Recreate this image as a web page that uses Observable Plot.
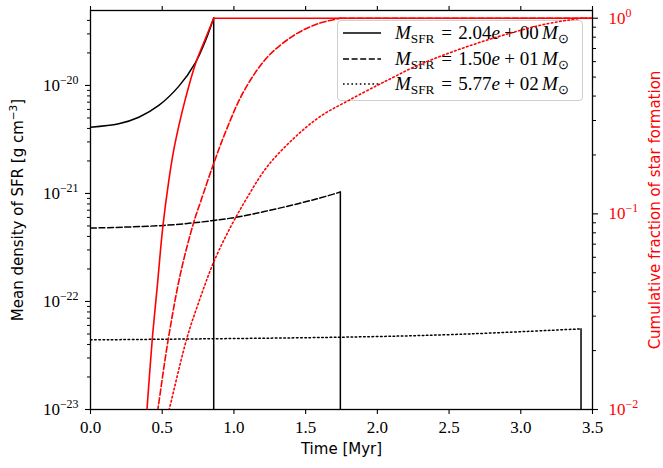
<!DOCTYPE html>
<html>
<head>
<meta charset="utf-8">
<script src="https://cdn.jsdelivr.net/npm/d3@7"></script>
<script src="https://cdn.jsdelivr.net/npm/@observablehq/plot@0.6"></script>
<style>
  body { margin: 0; background: #fff; }
  #wrap { position: relative; width: 663px; height: 468px; overflow: hidden; }
  #wrap svg.layer { position: absolute; left: 0; top: 0; }
  #legend { position: absolute; left: 337px; top: 20px; width: 246px; height: 81px; box-sizing: border-box;
    border: 1px solid #cfcfcf; border-radius: 4px; background: rgba(255,255,255,0.8);
    font-family: "Liberation Serif", serif; font-size: 19px; color: #000; }
  #legend .row { position: absolute; left: 0; height: 24px; width: 100%; }
  #legend .row svg { position: absolute; left: 5px; top: 7px; }
  #legend .row .txt { position: absolute; left: 57px; top: 0; line-height: 24px; white-space: nowrap; }
  #legend sub { font-size: 0.7em; vertical-align: -0.28em; line-height: 0; font-style: normal; }
  #legend .eq { margin: 0 0.32em 0 0.36em; }
  #legend .pl { margin: 0 0.24em; }
  #legend .sp { margin-left: 0.18em; }
</style>
</head>
<body>
<div id="wrap"></div>
<script>
// ---------- data ----------
const xTicks = [0, 0.5, 1.0, 1.5, 2.0, 2.5, 3.0, 3.5];
const leftMajor = [1e-23, 1e-22, 1e-21, 1e-20];
const rightMajor = [1e-2, 1e-1, 1e0];
const minorMultipliers = [2, 3, 4, 5, 6, 7, 8, 9];

// SFR mean density (black), g cm^-3
const tSolid   = [0, 0.197, 0.337, 0.476, 0.615, 0.732, 0.801, 0.859];
const rhoSolid = [4.11e-21, 4.42e-21, 5.08e-21, 6.53e-21, 9.8e-21, 1.63e-20, 2.58e-20, 4.21e-20];
const tDashed   = [0, 0.511, 0.859, 1.045, 1.347, 1.580, 1.742];
const rhoDashed = [4.78e-22, 5.06e-22, 5.62e-22, 6.12e-22, 7.47e-22, 8.93e-22, 1.03e-21];
const tDotted   = [0, 1.742, 2.52, 3.42];
const rhoDotted = [4.41e-23, 4.67e-23, 4.94e-23, 5.58e-23];

// cumulative fraction of star formation (red)
const tFracSolid = [0.37, 0.395, 0.430, 0.465, 0.504, 0.546, 0.580, 0.615, 0.662, 0.732, 0.801, 0.859, 3.5];
const fracSolid  = [0.0062, 0.0103, 0.0226, 0.0422, 0.0855, 0.148, 0.211, 0.280, 0.388, 0.585, 0.785, 1.0, 1.0];
const tFracDashed = [0.44, 0.472, 0.541, 0.627, 0.720, 0.767, 0.859, 0.953, 1.068, 1.231, 1.417, 1.580, 1.742, 3.5];
const fracDashed  = [0.0072, 0.0103, 0.0226, 0.0494, 0.0907, 0.115, 0.181, 0.275, 0.422, 0.630, 0.816, 0.934, 1.0, 1.0];
const tFracDotted = [0.52, 0.553, 0.674, 0.767, 0.859, 0.976, 1.092, 1.231, 1.417, 1.603, 1.80, 1.998, 2.114, 2.253, 2.486, 2.718, 2.950, 3.182, 3.42, 3.5];
const fracDotted  = [0.0082, 0.0103, 0.0234, 0.0375, 0.0567, 0.0855, 0.121, 0.174, 0.243, 0.315, 0.380, 0.453, 0.500, 0.562, 0.658, 0.754, 0.848, 0.936, 1.0, 1.0];

const legendMantissa = ["2.04", "1.50", "5.77"];
const legendExponent = ["00", "01", "02"];

const xLabel = "Time [Myr]";
const yLabel = "Mean density of SFR [g cm^{−3}]";
const y2Label = "Cumulative fraction of star formation";

// ---------- layout / style ----------
const W = 663, H = 468;
const M = {left: 90, right: 71, top: 10, bottom: 59};
const xDomain = [0, 3.5];
const leftDomain = [1e-23, 4.94e-20];
const rightDomain = [0.01, 1.095];
const RED = "#ff0000";
const dashes = {solid: null, dashed: "6,2.6", dotted: "1.6,2.6"};
const styles = ["solid", "dashed", "dotted"];
const SERIF = "Liberation Serif, serif";
const SANS = "DejaVu Sans, sans-serif";
const TICKFONT = {fontFamily: SERIF, fontSize: 17};

const zip = (ts, vs, s) => ts.map((t, i) => ({t, v: vs[i], s}));
const blackSeries = [zip(tSolid, rhoSolid, "solid"), zip(tDashed, rhoDashed, "dashed"), zip(tDotted, rhoDotted, "dotted")];
const redSeries = [zip(tFracSolid, fracSolid, "solid"), zip(tFracDashed, fracDashed, "dashed"), zip(tFracDotted, fracDotted, "dotted")];
const drops = blackSeries.map(a => a[a.length - 1]);
// split each red series into its rising part and its saturated (=1) tail
const redRise = redSeries.map(a => a.slice(0, a.findIndex(d => d.v >= 1) + 1));
const redTail = redSeries.map(a => a.slice(a.findIndex(d => d.v >= 1)));

const minorTicks = (dom) => {
  const out = [];
  for (let k = Math.floor(Math.log10(dom[0])); k <= Math.ceil(Math.log10(dom[1])); k++)
    for (const m of minorMultipliers) { const v = m * Math.pow(10, k); if (v >= dom[0] && v <= dom[1]) out.push(v); }
  return out;
};
const powFmt = d => { const e = Math.round(Math.log10(d)); return "10^{" + (e < 0 ? "−" + (-e) : String(e)) + "}"; };

// ---------- layer 1: axes + black lines ----------
const plot1 = Plot.plot({
  width: W, height: H,
  marginLeft: M.left, marginRight: M.right, marginTop: M.top, marginBottom: M.bottom,
  style: {fontFamily: SERIF, fontSize: "17px", background: "white", overflow: "visible"},
  x: {domain: xDomain},
  y: {type: "log", domain: leftDomain},
  marks: [
    ...blackSeries.map(d => Plot.line(d, {x: "t", y: "v", stroke: "black", strokeWidth: 1.5,
      strokeDasharray: dashes[d[0].s], curve: "catmull-rom", clip: true})),
    Plot.ruleX(drops, {x: "t", y1: "v", y2: leftDomain[0], stroke: "black", strokeWidth: 1.5,
      strokeDasharray: d => dashes[d.s], clip: true}),
    Plot.axisX({ticks: xTicks, tickFormat: d3.format(".1f"), tickSize: 5, tickPadding: 6, label: null, strokeWidth: 1.1, ...TICKFONT}),
    Plot.axisX({anchor: "top", ticks: xTicks, tickFormat: () => "", tickSize: 5, label: null, strokeWidth: 1.1}),
    Plot.axisY({ticks: leftMajor, tickFormat: powFmt, tickSize: 5, tickPadding: 7, label: null, strokeWidth: 1.1, ...TICKFONT}),
    Plot.axisY({ticks: minorTicks(leftDomain), tickFormat: () => "", tickSize: 3, label: null, strokeWidth: 1}),
    Plot.frame({stroke: "black", strokeWidth: 1.3}),
    Plot.text([xLabel], {text: d => d, frameAnchor: "bottom", textAnchor: "middle", lineAnchor: "middle",
      dy: 40, fontFamily: SANS, fontSize: 15}),
    Plot.text([yLabel], {text: d => d, frameAnchor: "left", textAnchor: "middle", lineAnchor: "middle",
      rotate: -90, dx: -72, fontFamily: SANS, fontSize: 15})
  ]
});

// ---------- layer 3: red lines + right axis ----------
const plot2 = Plot.plot({
  width: W, height: H,
  marginLeft: M.left, marginRight: M.right, marginTop: M.top, marginBottom: M.bottom,
  style: {fontFamily: SERIF, fontSize: "17px", background: "transparent", overflow: "visible"},
  x: {domain: xDomain, axis: null},
  y: {type: "log", domain: rightDomain},
  marks: [
    ...redRise.map(d => Plot.line(d, {x: "t", y: "v", stroke: RED, strokeWidth: 1.6,
      strokeDasharray: dashes[d[0].s], curve: "catmull-rom", clip: true})),
    ...redTail.map(d => Plot.line(d, {x: "t", y: "v", stroke: RED, strokeWidth: 1.6,
      strokeDasharray: dashes[d[0].s], clip: true})),
    Plot.axisY({anchor: "right", ticks: rightMajor, tickFormat: () => "", tickSize: 5, label: null, stroke: "black", strokeWidth: 1.1}),
    Plot.axisY({anchor: "right", ticks: minorTicks(rightDomain), tickFormat: () => "", tickSize: 3, label: null, stroke: "black", strokeWidth: 1}),
    Plot.axisY({anchor: "right", ticks: rightMajor, tickFormat: powFmt, tickSize: 0, tickPadding: 16, label: null, color: RED, ...TICKFONT}),
    Plot.text([y2Label], {text: d => d, frameAnchor: "right", textAnchor: "middle", lineAnchor: "middle",
      rotate: -90, dx: 63, fill: RED, fontFamily: SANS, fontSize: 15})
  ]
});

// superscripts: "a^{b}c" -> tspans
function applySup(root) {
  const ns = "http://www.w3.org/2000/svg";
  root.querySelectorAll("text").forEach(t => {
    const s = t.textContent;
    if (!s.includes("^{")) return;
    while (t.firstChild) t.removeChild(t.firstChild);
    const re = /\^\{([^}]*)\}/g;
    let last = 0, m, raised = false;
    const plain = (str) => {
      const sp = document.createElementNS(ns, "tspan");
      sp.textContent = str;
      if (raised) { sp.setAttribute("dy", "0.42em"); raised = false; }
      t.appendChild(sp);
    };
    while ((m = re.exec(s))) {
      if (m.index > last) plain(s.slice(last, m.index));
      const sup = document.createElementNS(ns, "tspan");
      sup.textContent = m[1];
      sup.setAttribute("font-size", "70%");
      sup.setAttribute("dy", "-0.6em");
      t.appendChild(sup);
      raised = true;
      last = re.lastIndex;
    }
    if (last < s.length) plain(s.slice(last));
  });
}
applySup(plot1); applySup(plot2);

const wrap = document.getElementById("wrap");
plot1.classList.add("layer");
plot2.classList.add("layer");
wrap.appendChild(plot1);

// ---------- legend (between black and red layers) ----------
const legend = document.createElement("div");
legend.id = "legend";
styles.forEach((s, i) => {
  const row = document.createElement("div");
  row.className = "row";
  row.style.top = (i * 25.5) + "px";
  const dash = dashes[s] ? ` stroke-dasharray="${dashes[s]}"` : "";
  row.innerHTML = `<svg width="40" height="10"><line x1="0" x2="38" y1="5" y2="5" stroke="black" stroke-width="1.5"${dash}/></svg>` +
    `<span class="txt"><i>M</i><sub>SFR</sub><span class="eq">=</span>${legendMantissa[i]}<i>e</i><span class="pl">+</span>${legendExponent[i]}<span class="sp"></span><i>M</i><sub>⊙</sub></span>`;
  legend.appendChild(row);
});
wrap.appendChild(legend);
wrap.appendChild(plot2);
</script>
</body>
</html>
